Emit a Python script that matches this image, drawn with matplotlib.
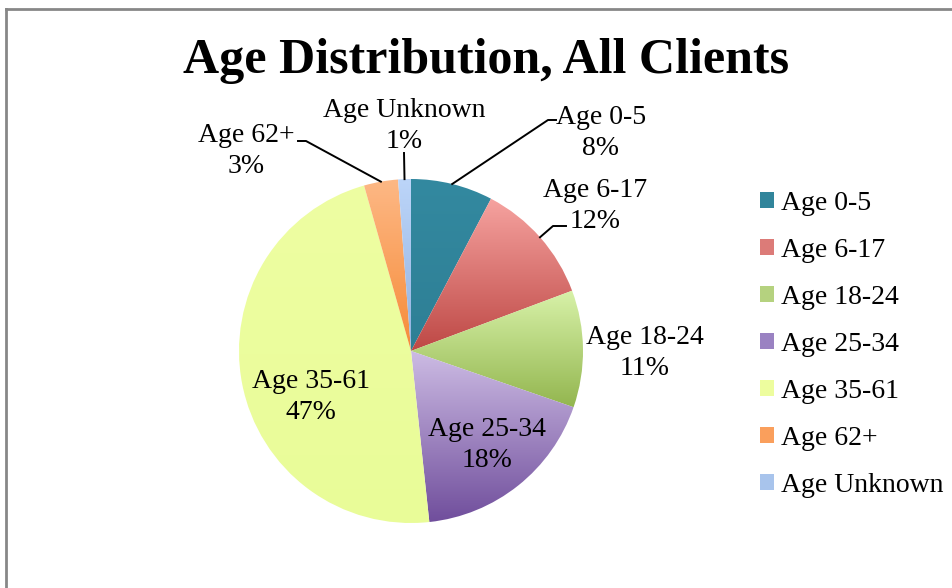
import numpy as np
import matplotlib
matplotlib.use("Agg")
import matplotlib.pyplot as plt
from matplotlib.colors import LinearSegmentedColormap
from matplotlib.patches import Patch

# --- data ---
categories = ["Age 0-5", "Age 6-17", "Age 18-24", "Age 25-34",
              "Age 35-61", "Age 62+", "Age Unknown"]
shares = [7.7, 11.6, 11.0, 18.0, 47.3, 3.2, 1.2]

# gradient colours per slice (top, bottom)
tops = ["#3389A0", "#F6A3A0", "#D8F2A9", "#CDBCE4", "#EEFEA2", "#FDB885", "#BCD5F9"]
bottoms = ["#2E7F95", "#BE4845", "#93B64F", "#704E9C", "#E9FC98", "#F68B38", "#93B2DF"]
legend_cols = ["#31859B", "#DC7B78", "#B5D27F", "#9A82C2", "#EDFD9E", "#FA9F5C", "#A8C4EC"]

W, H = 953, 588
plt.rcParams['font.family'] = ['Liberation Serif', 'DejaVu Serif']

fig = plt.figure(figsize=(W / 100, H / 100), dpi=100, facecolor='white')
ax = fig.add_axes([0, 0, 1, 1])

# pie centre / radius in pixel units (y up)
cx, cy, R = 411, H - 351, 172

wedges, _ = ax.pie(shares, startangle=90, counterclock=False,
                   radius=R, center=(cx, cy), frame=True,
                   wedgeprops=dict(linewidth=0))

# vertical gradient fill clipped to each slice (Excel style)
grad = np.linspace(0, 1, 256).reshape(-1, 1)
for w, top, bot in zip(wedges, tops, bottoms):
    w.set_facecolor('none')
    bb = w.get_path().get_extents()
    cmap = LinearSegmentedColormap.from_list('g', [bot, top])
    im = ax.imshow(grad, extent=(bb.x0, bb.x1, bb.y0, bb.y1), origin='lower',
                   cmap=cmap, aspect='auto', interpolation='bilinear', zorder=1)
    im.set_clip_path(w)

ax.set_xlim(0, W)
ax.set_ylim(0, H)
ax.set_aspect('auto')
ax.set_axis_off()

# --- labels (positions are layout, in px from top-left) ---
label_pos = {
    "Age 0-5": (601, 133),
    "Age 6-17": (595, 206),
    "Age 18-24": (645, 353),
    "Age 25-34": (487, 445),
    "Age 35-61": (311, 397),
    "Age 62+": (246, 151),
    "Age Unknown": (404, 126),
}
# leader line elbow and end points (px), for outside labels
leaders = {
    "Age 0-5": [(548, 120), (556, 120)],
    "Age 6-17": [(553, 226), (566, 226)],
    "Age 62+": [(306, 141), (298, 141)],
    "Age Unknown": [(404, 153)],
}

cum = np.cumsum([0] + shares)
for i, (name, v) in enumerate(zip(categories, shares)):
    x, y = label_pos[name]
    ax.text(x, H - y, f"{name}\n{v:.0f}%", ha='center', va='center',
            fontsize=20, linespacing=1.3, color='black', zorder=3)
    if name in leaders:
        mid = np.deg2rad(90 - (cum[i] + v / 2) / 100 * 360)
        pts = [(cx + R * np.cos(mid), cy + R * np.sin(mid))]
        pts += [(px, H - py) for px, py in leaders[name]]
        xs, ys = zip(*pts)
        ax.plot(xs, ys, color='black', lw=1.4, zorder=3)

# title
ax.text(486, H - 61, "Age Distribution, All Clients", ha='center', va='center',
        fontsize=36, fontweight='bold')

# legend
handles = [Patch(facecolor=c, edgecolor='none') for c in legend_cols]
leg = ax.legend(handles, categories, loc='upper left',
                bbox_to_anchor=(760 / W, 1 - 191 / H), frameon=False,
                fontsize=20, handlelength=0.5, handleheight=0.5,
                handletextpad=0.25, labelspacing=0.79, borderpad=0,
                borderaxespad=0)

# chart frame (only top and left edges visible)
ax.plot([6.5, 6.5], [0, H - 8.5], color='#878787', lw=2, clip_on=False)
ax.plot([6.5, W], [H - 8.5, H - 8.5], color='#878787', lw=2, clip_on=False)

plt.savefig("out.png", dpi=100, facecolor='white')
